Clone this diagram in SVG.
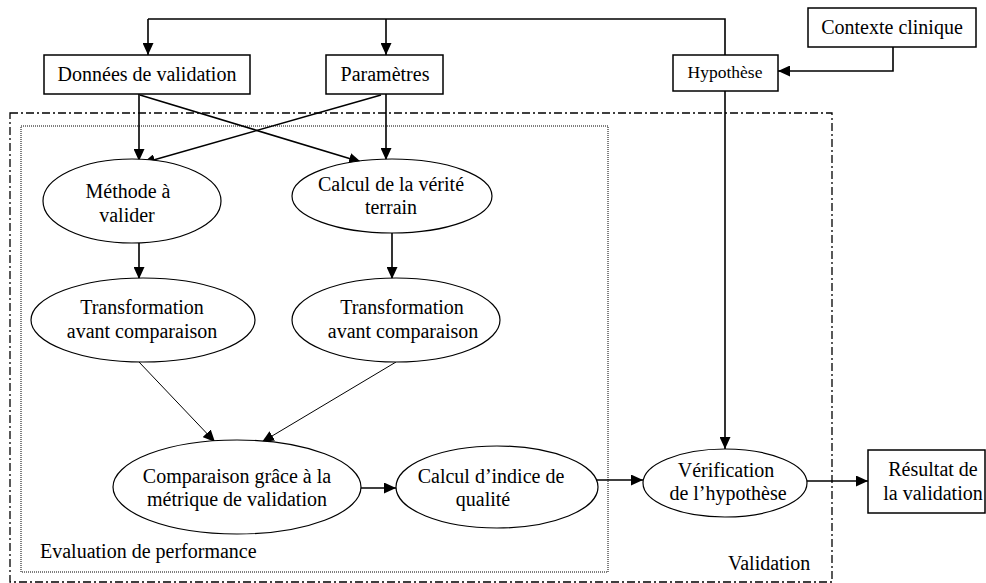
<svg xmlns="http://www.w3.org/2000/svg" width="986" height="583" viewBox="0 0 986 583">
<style>
text{font-family:"Liberation Serif","Times New Roman",serif;font-size:20px;fill:#000;text-anchor:middle}
.box{fill:#fff;stroke:#000;stroke-width:1.5}
.ell{fill:#fff;stroke:#000;stroke-width:1.2}
.c{fill:none;stroke:#000;stroke-width:1.6}
.t{fill:none;stroke:#000;stroke-width:1}
.lbl{text-anchor:start}
</style>
<defs>
<marker id="ah" markerUnits="userSpaceOnUse" markerWidth="13" markerHeight="11" refX="12" refY="5.5" orient="auto">
<path d="M0,0 L12,5.5 L0,11 z" fill="#000"/>
</marker>
</defs>
<g id="cluster-validation">
<rect x="10" y="113" width="822" height="469" fill="none" stroke="#000" stroke-width="1.3" stroke-dasharray="8 3 2 3"/>
<text class="lbl" x="728" y="570">Validation</text>
</g>
<g id="cluster-evaluation">
<rect x="21" y="126" width="587" height="446" fill="none" stroke="#000" stroke-width="1" stroke-dasharray="1 1"/>
<text class="lbl" x="40" y="558">Evaluation de performance</text>
</g>
<g id="connectors">
<polyline class="c" points="148,19 725,19 725,55"/>
<path class="c" d="M148,19 L148,55" marker-end="url(#ah)"/>
<path class="c" d="M386,19 L386,55" marker-end="url(#ah)"/>
<path class="c" d="M893,47 L893,71 L778,71" marker-end="url(#ah)"/>
<path class="c" d="M725,91 L725,449" marker-end="url(#ah)"/>
<path class="c" d="M139,94 L139,161" marker-end="url(#ah)"/>
<path class="c" d="M140,95 L361,162" marker-end="url(#ah)"/>
<path class="c" d="M386,94 L386,160" marker-end="url(#ah)"/>
<path class="c" d="M381,95 L143,163" marker-end="url(#ah)"/>
<path class="c" d="M139,243 L139,279" marker-end="url(#ah)"/>
<path class="c" d="M392,232 L392,279" marker-end="url(#ah)"/>
<path class="t" d="M139,362 L215,442" marker-end="url(#ah)"/>
<path class="t" d="M396,362 L262,442" marker-end="url(#ah)"/>
<path class="c" d="M361,488 L396,488" marker-end="url(#ah)"/>
<path class="c" d="M597,480 L643,480" marker-end="url(#ah)"/>
<path class="c" d="M807,481 L868,481" marker-end="url(#ah)"/>
</g>
<g id="donnees">
<rect class="box" x="44" y="55" width="206" height="39"/>
<text x="147" y="81">Données de validation</text>
</g>
<g id="parametres">
<rect class="box" x="326" y="55" width="117" height="39"/>
<text x="385" y="81">Paramètres</text>
</g>
<g id="contexte">
<rect class="box" x="808" y="8" width="168" height="39"/>
<text x="892" y="34">Contexte clinique</text>
</g>
<g id="hypothese">
<rect class="box" x="673" y="55" width="105" height="36"/>
<text x="725" y="78" style="font-size:17.5px">Hypothèse</text>
</g>
<g id="methode">
<ellipse class="ell" cx="132" cy="201" rx="89" ry="42"/>
<text x="128" y="198">Méthode à</text>
<text x="127" y="222">valider</text>
</g>
<g id="verite">
<ellipse class="ell" cx="392" cy="196" rx="100" ry="37"/>
<text x="391" y="191">Calcul de la vérité</text>
<text x="391" y="214">terrain</text>
</g>
<g id="transfo1">
<ellipse class="ell" cx="143" cy="320" rx="112" ry="42"/>
<text x="142" y="314">Transformation</text>
<text x="142" y="338">avant comparaison</text>
</g>
<g id="transfo2">
<ellipse class="ell" cx="396" cy="320" rx="104" ry="42"/>
<text x="402" y="314">Transformation</text>
<text x="403" y="338">avant comparaison</text>
</g>
<g id="comparaison">
<ellipse class="ell" cx="237" cy="487" rx="124" ry="47"/>
<text x="237" y="483">Comparaison grâce à la</text>
<text x="237" y="506">métrique de validation</text>
</g>
<g id="indice">
<ellipse class="ell" cx="497" cy="487" rx="101" ry="41"/>
<text x="491" y="483">Calcul d’indice de</text>
<text x="483" y="506">qualité</text>
</g>
<g id="verification">
<ellipse class="ell" cx="725" cy="483" rx="82" ry="34"/>
<text x="726" y="477">Vérification</text>
<text x="728" y="500">de l’hypothèse</text>
</g>
<g id="resultat">
<rect class="box" x="868" y="450" width="117" height="63"/>
<text x="933" y="476">Résultat de</text>
<text x="933" y="500">la validation</text>
</g>
</svg>
